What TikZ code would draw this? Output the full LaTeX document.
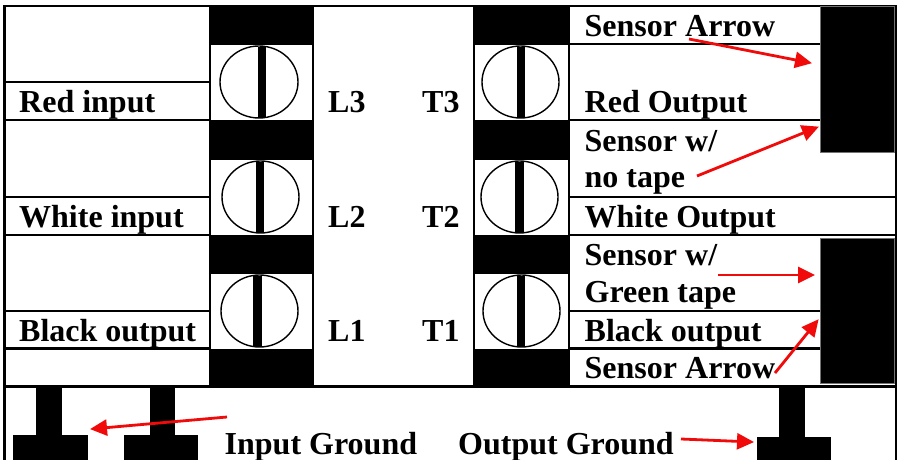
\documentclass[tikz,border=0pt]{standalone}
\usepackage{fontspec}
\setmainfont{Liberation Serif}
\usetikzlibrary{arrows.meta}
\tikzset{
  rule/.style={draw=black,line width=2.4pt},
  lbl/.style={anchor=base west,inner sep=0pt,font=\fontsize{32}{34}\selectfont\bfseries,text=black},
  solid block/.style={fill=black,draw=none,inner sep=0pt,outer sep=0pt},
  sensor/.style={fill=black,draw=black!55,line width=0.8pt,inner sep=0pt,outer sep=0pt},
  pointer/.style={draw={rgb,255:red,240;green,10;blue,10},line width=2.8pt,
    -{Triangle[length=17pt,width=16pt]},shorten >=-1pt},
  bw/.style={minimum width=#1pt},
  bh/.style={minimum height=#1pt}
}
\begin{document}
\begin{tikzpicture}[x=1pt,y=-1pt]
\useasboundingbox (0,0) rectangle (900,460);
\fill[white] (0,0) rectangle (900,460);
% outer frame
\draw[rule] (4.5,460) -- (4.5,6) -- (896,6) -- (896,460);
\draw[rule] (4.5,386.5) -- (896,386.5);
% left rules
\foreach \y in {82,120,197,235,311,348.5} \draw[rule] (4.5,\y) -- (210,\y);
% right rules
\foreach \y in {44,120,197,235,311,348.5} \draw[rule] (570,\y) -- (896,\y);
% terminal blocks
\foreach \xa/\xb in {210/313,474/569}{
  \draw[rule] (\xa,6) -- (\xa,386.5);
  \draw[rule] (\xb,6) -- (\xb,386.5);
  \fill[black] (\xa-1,6) rectangle (\xb+1,45);
  \fill[black] (\xa-1,120) rectangle (\xb+1,160);
  \fill[black] (\xa-1,235) rectangle (\xb+1,274);
  \fill[black] (\xa-1,349) rectangle (\xb+1,386.5);
}
% screws
\foreach \xa/\ya/\xb/\yb/\bl/\br in {
  220/46/298/118/257.5/265.5,
  222/161/299/233/256/264,
  221/275/298/347/253/262,
  482/46/559/118/517/525,
  481/161/558/233/515/524,
  483/275/560/347/517/525}{
  \draw[black,line width=1.4pt] ({(\xa+\xb)/2},{(\ya+\yb)/2}) ellipse ({(\xb-\xa)/2} and {(\yb-\ya)/2});
  \fill[black] (\bl,\ya+1) rectangle (\br,\yb);
}
% sensors
\node[sensor,bw=74,bh=146] (sensorTop) at (857,79) {};
\node[sensor,bw=74,bh=145] (sensorBot) at (857,310.5) {};
% grounds
\node[solid block,bw=26,bh=49] (stemA) at (48.5,411.5) {};
\node[solid block,bw=75,bh=26] (baseA) at (50.5,448) {};
\node[solid block,bw=25,bh=49] (stemB) at (162.5,411.5) {};
\node[solid block,bw=74,bh=26] (baseB) at (161,448) {};
\node[solid block,bw=26,bh=51] (stemC) at (792,412) {};
\node[solid block,bw=74,bh=24] (baseC) at (794,449) {};
% labels
\node[lbl] (redin) at (19,112.5) {Red input};
\node[lbl] (whitein) at (19,227.5) {White input};
\node[lbl] (blackin) at (19,341.5) {Black output};
\node[lbl] (l3) at (328,112.5) {L3};
\node[lbl] (l2) at (328,227.5) {L2};
\node[lbl] (l1) at (328,341.5) {L1};
\node[lbl] (t3) at (422,112.5) {T3};
\node[lbl] (t2) at (422,227.5) {T2};
\node[lbl] (t1) at (422,341.5) {T1};
\node[lbl] (arrowA) at (584.5,36.5) {Sensor Arrow};
\node[lbl] (redout) at (584.5,112) {Red Output};
\node[lbl] (notapeA) at (584.5,151) {Sensor w/};
\node[lbl] (notapeB) at (584.5,187) {no tape};
\node[lbl] (whiteout) at (584.5,227.5) {White Output};
\node[lbl] (greenA) at (584.5,265.5) {Sensor w/};
\node[lbl] (greenB) at (584.5,302.5) {Green tape};
\node[lbl] (blackout) at (584.5,341.5) {Black output};
\node[lbl] (arrowB) at (584.5,378.5) {Sensor Arrow};
\node[lbl] (ingnd) at (224.5,454.5) {Input Ground};
\node[lbl] (outgnd) at (458,454.5) {Output Ground};
% arrow ends
\coordinate (p1s) at (689,39);  \coordinate (p1e) at (811,63);
\coordinate (p2s) at (697,176); \coordinate (p2e) at (818,127);
\coordinate (p3s) at (718,275); \coordinate (p3e) at (814,275);
\coordinate (p4s) at (775,373); \coordinate (p4e) at (818,320);
\coordinate (p5s) at (227,417); \coordinate (p5e) at (91,429);
\coordinate (p6s) at (681,439); \coordinate (p6e) at (753,442);
\draw[pointer] (p1s) -- (p1e);
\draw[pointer] (p2s) -- (p2e);
\draw[pointer] (p3s) -- (p3e);
\draw[pointer] (p4s) -- (p4e);
\draw[pointer] (p5s) -- (p5e);
\draw[pointer] (p6s) -- (p6e);
\end{tikzpicture}
\end{document}
